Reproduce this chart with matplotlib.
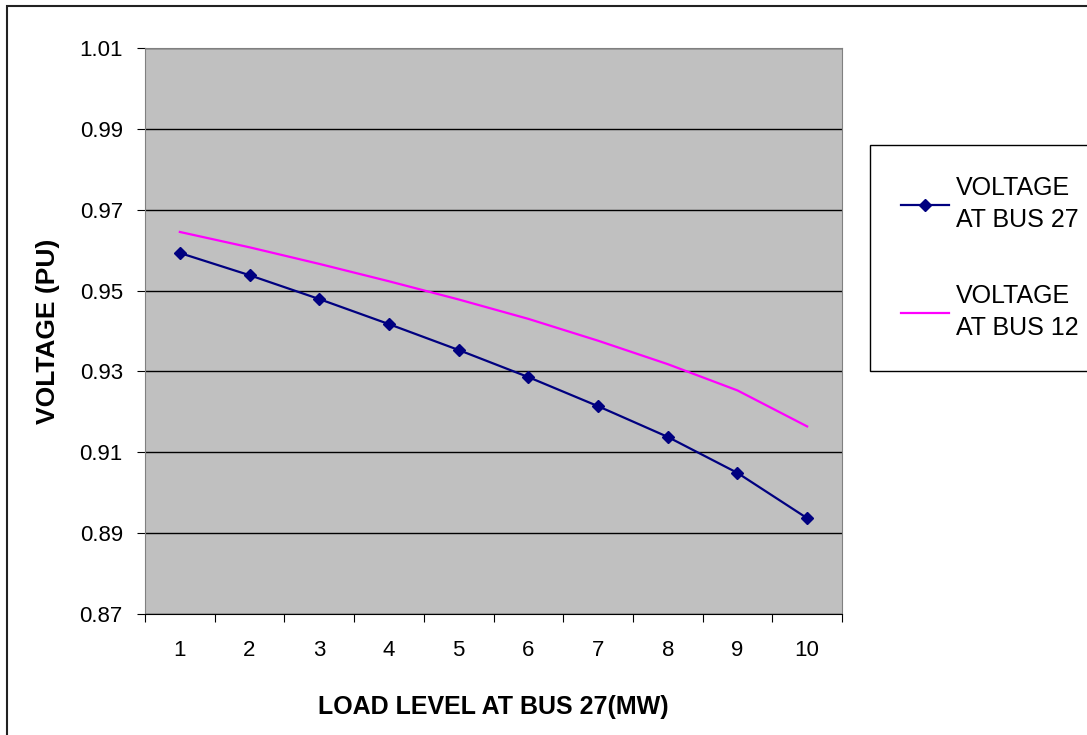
import numpy as np
import matplotlib.pyplot as plt
from matplotlib.patches import Rectangle

plt.rcParams['font.family'] = ['Liberation Sans', 'DejaVu Sans']

# load level at bus 27 (MW)
load = [1, 2, 3, 4, 5, 6, 7, 8, 9, 10]
# voltages in pu
v_bus27 = [0.9593, 0.9538, 0.9479, 0.9417, 0.9353, 0.9286, 0.9214, 0.9138, 0.9049, 0.8937]
v_bus12 = [0.9645, 0.9607, 0.9566, 0.9523, 0.9478, 0.9430, 0.9376, 0.9318, 0.9253, 0.9164]
yticks = [0.87, 0.89, 0.91, 0.93, 0.95, 0.97, 0.99, 1.01]

fig = plt.figure(figsize=(10.87, 7.35), dpi=100)
ax = fig.add_axes([145/1087, 1 - 614/735, 697/1087, 566/735])
ax.set_facecolor('#c0c0c0')

ax.plot(load, v_bus27, color='#000080', lw=1.6, marker='D', ms=6,
        label='VOLTAGE\nAT BUS 27')
ax.plot(load, v_bus12, color='#ff00ff', lw=1.6, label='VOLTAGE\nAT BUS 12')

ax.set_xlim(0.5, 10.5)
ax.set_ylim(0.87, 1.01)
ax.set_yticks(yticks)
ax.set_yticklabels(['%.2f' % t for t in yticks], fontsize=16)
ax.yaxis.grid(True, color='black', lw=1)
ax.set_axisbelow(True)

# category ticks sit between the labels
ax.set_xticks(np.arange(0.5, 11, 1))
ax.set_xticklabels([])
ax.set_xticks(load, minor=True)
ax.set_xticklabels([str(x) for x in load], minor=True, fontsize=16)
ax.tick_params(axis='x', which='minor', length=0, pad=19)
ax.tick_params(axis='x', which='major', length=6, direction='out', color='black')
ax.tick_params(axis='y', length=6, direction='out', pad=10)

for s in ['top', 'right']:
    ax.spines[s].set_color('#808080')
ax.spines['left'].set_color('#808080')
ax.spines['bottom'].set_color('black')

ax.set_xlabel('LOAD LEVEL AT BUS 27(MW)', fontsize=18, fontweight='bold', labelpad=24)
ax.set_ylabel('VOLTAGE (PU)', fontsize=19, fontweight='bold', labelpad=14)

leg = ax.legend(loc='center left', bbox_to_anchor=(870/1087, 1 - 258/735),
                bbox_transform=fig.transFigure, fontsize=18, labelspacing=2.05,
                handlelength=1.9, handletextpad=0.3, borderpad=1.25, borderaxespad=0,
                fancybox=False, framealpha=1, edgecolor='black')
leg.get_frame().set_linewidth(1)
for t in leg.get_texts():
    t.set_linespacing(1.45)

# outer chart frame
fig.add_artist(Rectangle((7/1087, -0.1), 1.2, 1 - 6/735 + 0.1, transform=fig.transFigure,
                         fill=False, edgecolor='#222222', lw=1.5))

fig.savefig('out.png', dpi=100)
